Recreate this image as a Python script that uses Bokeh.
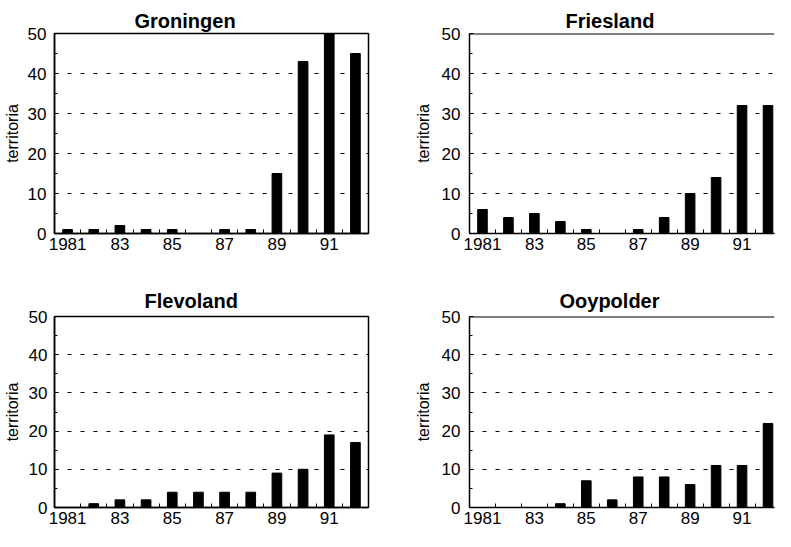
from bokeh.plotting import figure
from bokeh.layouts import column, row
from bokeh.models import FixedTicker, Span, Range1d
from bokeh.embed import file_html
from bokeh.resources import INLINE

# ---- data ----
years = [1981, 1982, 1983, 1984, 1985, 1986, 1987, 1988, 1989, 1990, 1991, 1992]
groningen = [1, 1, 2, 1, 1, 0, 1, 1, 15, 43, 50, 45]
friesland = [6, 4, 5, 3, 1, 0, 1, 4, 10, 14, 32, 32]
flevoland = [0, 1, 2, 2, 4, 4, 4, 4, 9, 10, 19, 17]
ooypolder = [0, 0, 0, 1, 7, 2, 8, 8, 6, 11, 11, 22]
x_tick_years = [1981, 1983, 1985, 1987, 1989, 1991]
x_tick_labels = ["1981", "83", "85", "87", "89", "91"]
y_ticks = [0, 10, 20, 30, 40, 50]
y_label = "territoria"
panel_titles = ["Groningen", "Friesland", "Flevoland", "Ooypolder"]

FONT = "Liberation Sans"


def make_panel(title, values, width, height, mb_left, mb_right, mb_top, mb_bottom,
               x_end, title_offset, title_standoff, tick_standoff, label_standoff, open_right):
    p = figure(width=width, height=height, output_backend="svg", toolbar_location=None,
               x_range=Range1d(1980.5, x_end), y_range=Range1d(0, 50),
               min_border_left=mb_left, min_border_right=mb_right,
               min_border_top=mb_top, min_border_bottom=mb_bottom,
               background_fill_color="white", border_fill_color="white")
    p.vbar(x=years, top=values, bottom=0, width=0.37, fill_color="black", line_color="black")

    # title
    p.title.text = title
    p.title.align = "left"
    p.title.offset = title_offset
    p.title.text_font = FONT
    p.title.text_font_size = "20px"
    p.title.text_font_style = "bold"
    p.title.text_color = "black"
    p.title.standoff = title_standoff

    # x axis
    xa = p.xaxis[0]
    xa.ticker = FixedTicker(ticks=x_tick_years,
                            minor_ticks=[y + 0.5 for y in years[:-1]])
    xa.major_label_overrides = {y: l for y, l in zip(x_tick_years, x_tick_labels)}
    xa.major_tick_in = 0
    xa.major_tick_out = 0
    xa.minor_tick_in = 4
    xa.minor_tick_out = 0
    xa.minor_tick_line_color = "black"
    xa.minor_tick_line_width = 1
    xa.axis_line_color = "black"
    xa.axis_line_width = 1.5
    xa.major_label_text_font = FONT
    xa.major_label_text_font_size = "17px"
    xa.major_label_text_color = "black"
    xa.major_label_standoff = 4

    # y axis
    ya = p.yaxis[0]
    ya.ticker = FixedTicker(ticks=y_ticks,
                            minor_ticks=[t + 5 for t in y_ticks[:-1]])
    ya.major_tick_in = 4
    ya.major_tick_out = 0
    ya.minor_tick_in = 3
    ya.minor_tick_out = 0
    ya.major_tick_line_color = "black"
    ya.minor_tick_line_color = "black"
    ya.axis_line_color = "black"
    ya.axis_line_width = 1.5
    ya.major_label_text_font = FONT
    ya.major_label_text_font_size = "17px"
    ya.major_label_text_color = "black"
    ya.major_label_standoff = tick_standoff
    ya.axis_label = y_label
    ya.axis_label_text_font = FONT
    ya.axis_label_text_font_size = "16px"
    ya.axis_label_text_font_style = "normal"
    ya.axis_label_text_color = "black"
    ya.axis_label_standoff = label_standoff

    # grid
    p.xgrid.visible = False
    p.ygrid.ticker = FixedTicker(ticks=y_ticks[1:-1])
    p.ygrid.grid_line_color = "black"
    p.ygrid.grid_line_dash = "4 9"
    p.ygrid.grid_line_width = 1

    if open_right:
        p.outline_line_color = None
        p.add_layout(Span(location=y_ticks[-1], dimension="width",
                          line_color="black", line_width=2))
    else:
        p.outline_line_color = "black"
        p.outline_line_width = 1.5
        p.outline_line_alpha = 1.0
    return p


tl = make_panel(panel_titles[0], groningen, 392, 264, 49, 24, 33, 31,
                1992.5, 80, 4, 8, 4, False)
tr = make_panel(panel_titles[1], friesland, 383, 264, 77, 1, 33, 31,
                1992.25, 96, 4, 9, 7, True)
bl = make_panel(panel_titles[2], flevoland, 392, 267, 49, 24, 52, 24,
                1992.5, 90, 10, 7, 5, False)
br = make_panel(panel_titles[3], ooypolder, 383, 267, 77, 1, 52, 24,
                1992.25, 90, 10, 9, 7, True)

layout = column(row(tl, tr), row(bl, br))

open("out.html", "w").write(file_html(layout, INLINE))
